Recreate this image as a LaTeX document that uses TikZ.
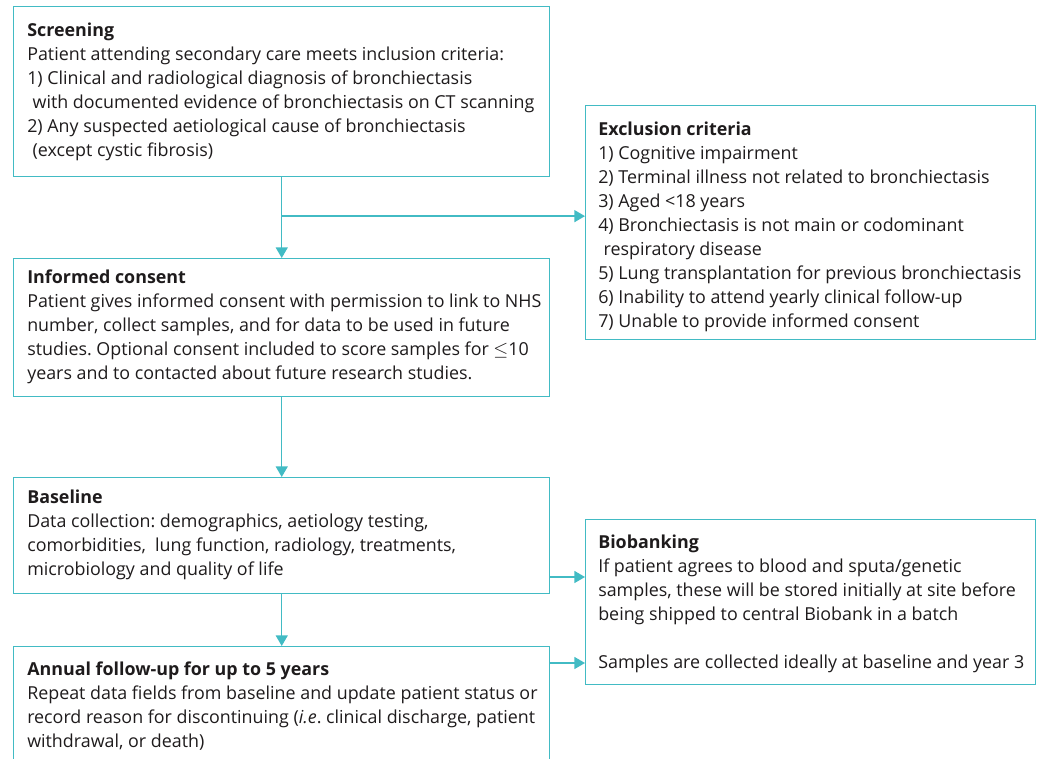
\documentclass[tikz,border=0pt]{standalone}
\usepackage{fontspec}
\setmainfont{Open Sans}
\usepackage{tikz}
\usetikzlibrary{arrows.meta,calc}
\frenchspacing

\definecolor{flowteal}{RGB}{66,187,196}
\definecolor{flowtext}{RGB}{30,27,28}

\tikzset{
  flowbox/.style={draw=flowteal, line width=1.1pt, anchor=north west, inner sep=0pt},
  flowlines/.style={anchor=north west, align=left, inner sep=0pt, text=flowtext,
    font=\fontsize{13.4pt}{18pt}\selectfont},
  flowarrow/.style={draw=flowteal, line width=1.1pt, -{Triangle[width=9pt,length=8pt]}}
}
\newcommand{\firstline}{\rule{0pt}{13pt}}

\begin{document}
\begin{tikzpicture}[x=0.75pt,y=-0.75pt]
        \clip (0,0) rectangle (1037,758);
        \useasboundingbox (0,0) rectangle (1037,758);

        % Boxes
        \node[flowbox, minimum width=536*0.75pt, minimum height=170*0.75pt] (screen) at (13,6) {};
        \node[flowbox, minimum width=536*0.75pt, minimum height=138*0.75pt] (consent) at (13,258) {};
        \node[flowbox, minimum width=536*0.75pt, minimum height=116*0.75pt] (baseline) at (13,477) {};
        \node[flowbox, minimum width=536*0.75pt, minimum height=140*0.75pt] (annual) at (13,646) {};
        \node[flowbox, minimum width=450*0.75pt, minimum height=234*0.75pt] (exclude) at (585,105) {};
        \node[flowbox, minimum width=450*0.75pt, minimum height=165*0.75pt] (biobank) at (585,519) {};

        % Texts
        \node[flowlines] (screen-t) at ($(screen.north west)+(14,13)$)
          {\firstline\textbf{Screening}\\
           Patient attending secondary care meets inclusion criteria:\\
           1) Clinical and radiological diagnosis of bronchiectasis\\
           \hspace*{0.3em}with documented evidence of bronchiectasis on CT scanning\\
           2) Any suspected aetiological cause of bronchiectasis\\
           \hspace*{0.3em}(except cystic fibrosis)};
        \node[flowlines] (consent-t) at ($(consent.north west)+(14,8)$)
          {\firstline\textbf{Informed consent}\\
           Patient gives informed consent with permission to link to NHS\\
           number, collect samples, and for data to be used in future\\
           studies. Optional consent included to score samples for $\leq$10\\
           years and to contacted about future research studies.};
        \node[flowlines] (baseline-t) at ($(baseline.north west)+(14,9)$)
          {\firstline\textbf{Baseline}\\
           Data collection: demographics, aetiology testing,\\
           comorbidities,\ \ lung function, radiology, treatments,\\
           microbiology and quality of life};
        \node[flowlines] (annual-t) at ($(annual.north west)+(14,12)$)
          {\firstline\textbf{Annual follow-up for up to 5 years}\\
           Repeat data fields from baseline and update patient status or\\
           record reason for discontinuing (\textit{i.e}. clinical discharge, patient\\
           withdrawal, or death)};
        \node[flowlines] (exclude-t) at ($(exclude.north west)+(13,13)$)
          {\firstline\textbf{Exclusion criteria}\\
           1) Cognitive impairment\\
           2) Terminal illness not related to bronchiectasis\\
           3) Aged <18 years\\
           4) Bronchiectasis is not main or codominant\\
           \hspace*{0.3em}respiratory disease\\
           5) Lung transplantation for previous bronchiectasis\\
           6) Inability to attend yearly clinical follow-up\\
           7) Unable to provide informed consent};
        \node[flowlines] (biobank-t) at ($(biobank.north west)+(13,12)$)
          {\firstline\textbf{Biobanking}\\
           If patient agrees to blood and sputa/genetic\\
           samples, these will be stored initially at site before\\
           being shipped to central Biobank in a batch\\[18pt]
           Samples are collected ideally at baseline and year 3};

        % Arrows
        \draw[flowarrow] (screen.south) -- (consent.north);
        \coordinate (split) at ($(screen.south)!0.48!(consent.north)$);
        \draw[flowarrow] (split) -- (split -| exclude.west);
        \draw[flowarrow] (consent.south) -- (baseline.north);
        \draw[flowarrow] (baseline.south) -- (annual.north);
        \coordinate (bank1) at ($(baseline.north east)+(0,100)$);
        \coordinate (bank2) at ($(annual.north east)+(0,17)$);
        \draw[flowarrow] (bank1) -- (bank1 -| biobank.west);
        \draw[flowarrow] (bank2) -- (bank2 -| biobank.west);
\end{tikzpicture}
\end{document}
